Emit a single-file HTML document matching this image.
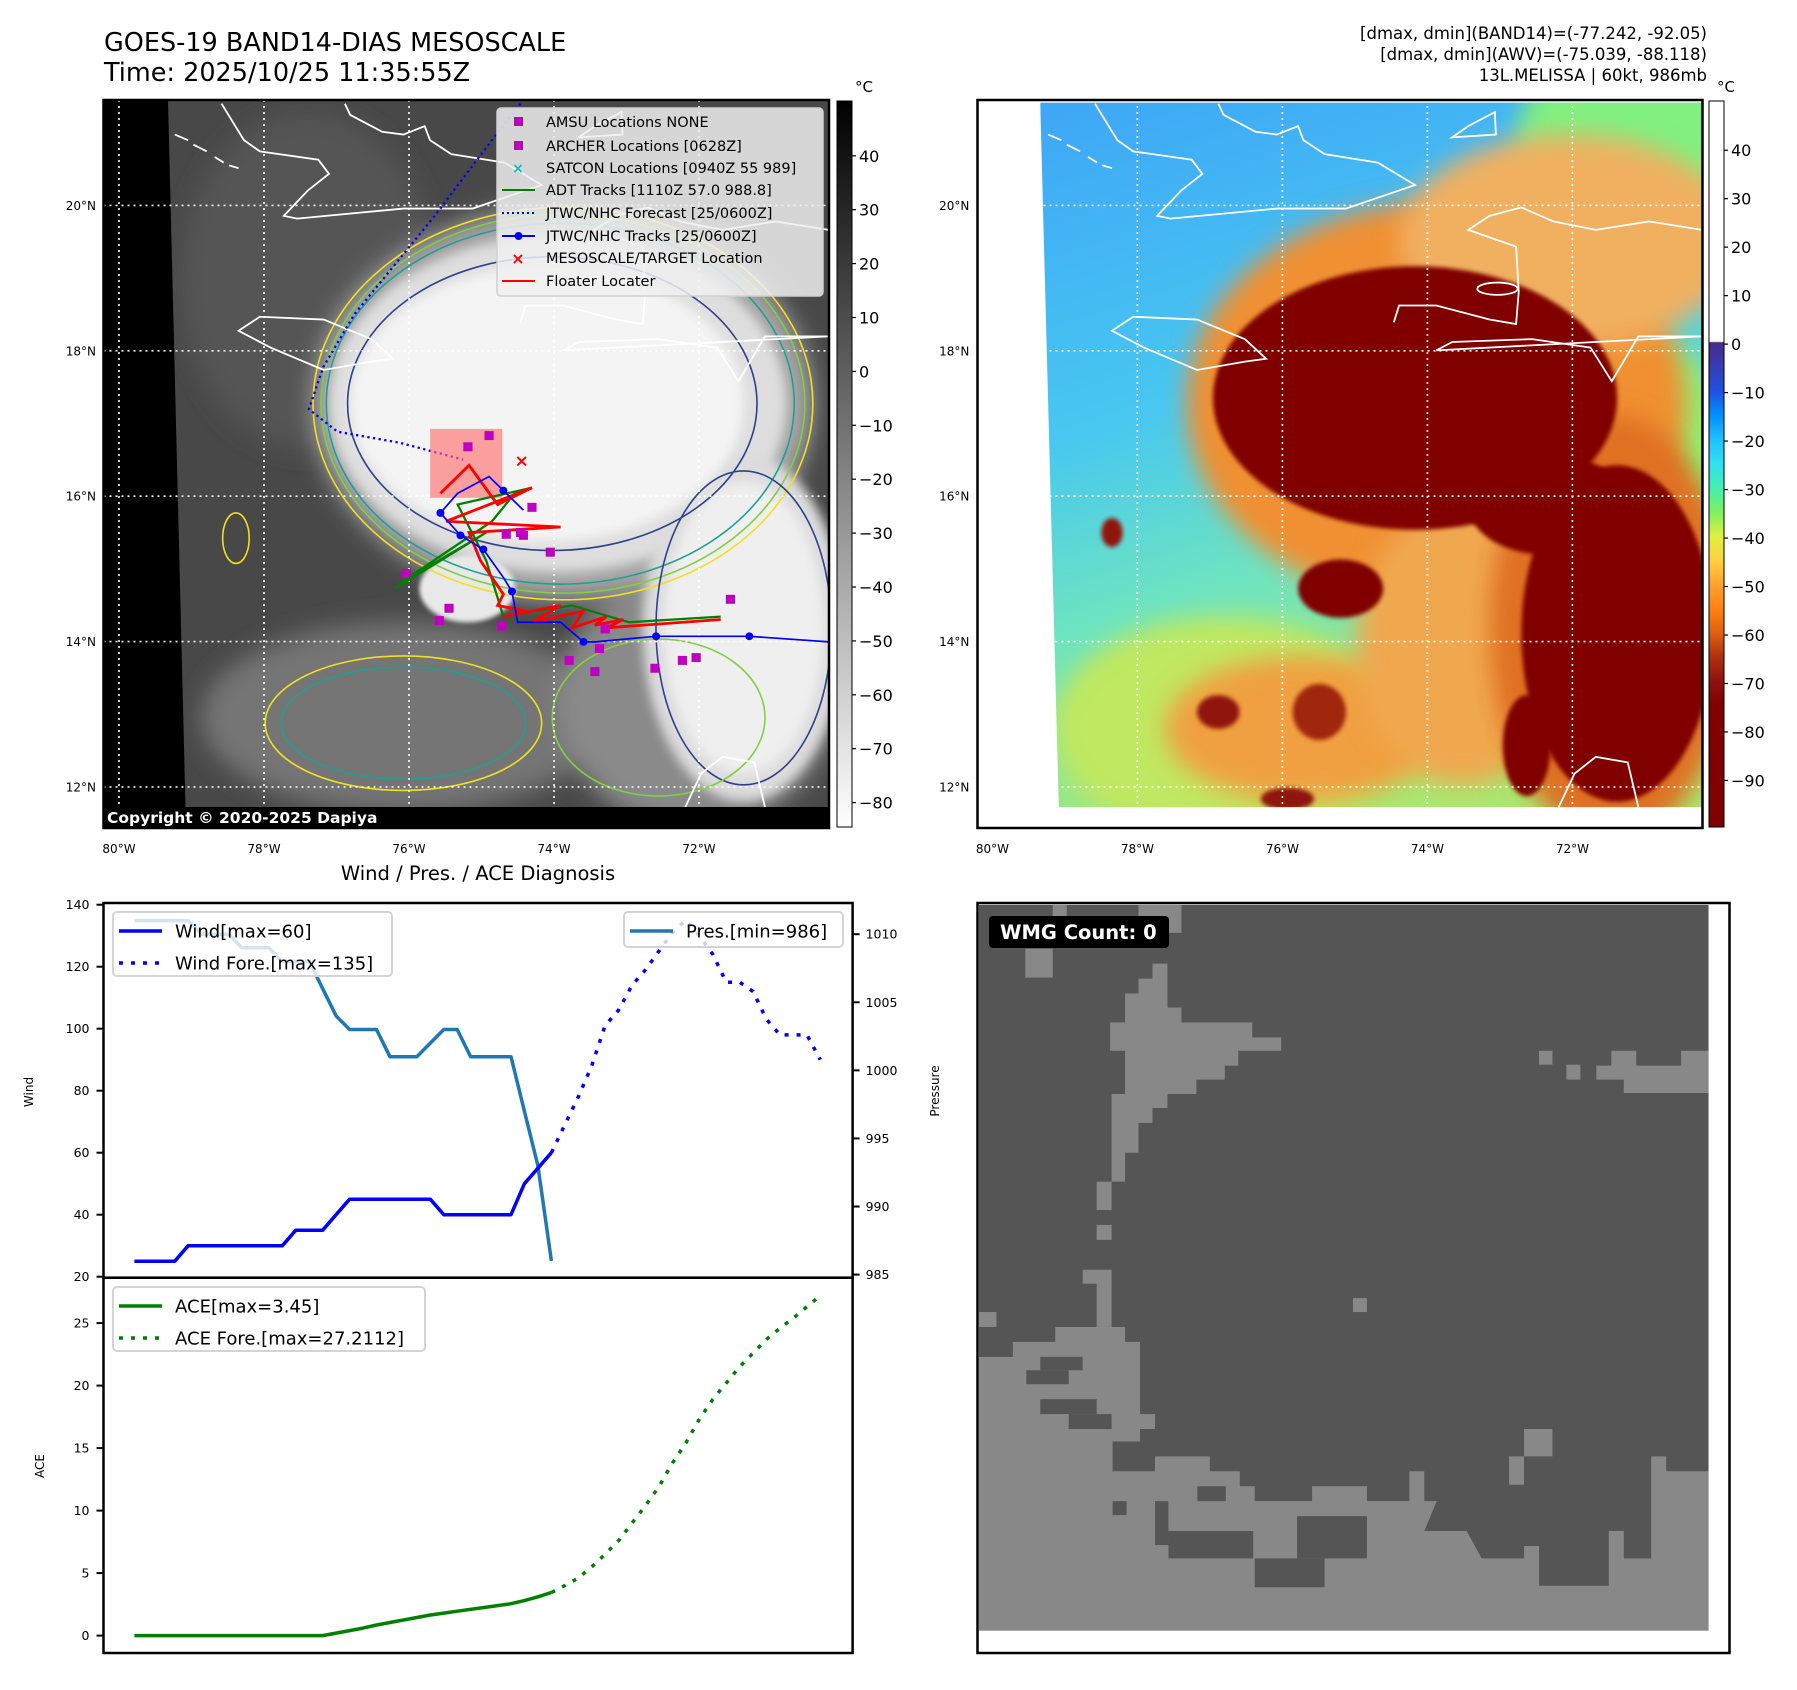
<!DOCTYPE html>
<html><head><meta charset="utf-8"><title>GOES-19 Band14 Mesoscale - Melissa</title>
<style>
html,body{margin:0;padding:0;background:#fff;}
svg{display:block;font-family:"DejaVu Sans","Liberation Sans",sans-serif;}
</style></head>
<body>
<svg id="fig" xmlns="http://www.w3.org/2000/svg" width="1797" height="1690" viewBox="0 0 1797 1690">
<defs>
  <filter id="blurL" x="-30%" y="-30%" width="160%" height="160%"><feGaussianBlur stdDeviation="22"/></filter>
  <filter id="blurM" x="-30%" y="-30%" width="160%" height="160%"><feGaussianBlur stdDeviation="10"/></filter>
  <filter id="blurS" x="-30%" y="-30%" width="160%" height="160%"><feGaussianBlur stdDeviation="4"/></filter>
  <clipPath id="clipL"><rect x="103.5" y="100" width="725.5" height="728"/></clipPath>
  <clipPath id="clipR"><rect x="977.5" y="100" width="725" height="728"/></clipPath>
  <clipPath id="dataR"><polygon points="155,183 1400,183 1400,1440 190,1440"/></clipPath>
  <linearGradient id="cbGray" x1="0" y1="0" x2="0" y2="1"><stop offset="0" stop-color="#000"/><stop offset="1" stop-color="#fff"/></linearGradient>
  <linearGradient id="cbRight" x1="0" y1="0" x2="0" y2="1">
    <stop offset="0" stop-color="#fff"/><stop offset="0.331" stop-color="#fff"/>
    <stop offset="0.333" stop-color="#4a2a8a"/><stop offset="0.399" stop-color="#2050e0"/>
    <stop offset="0.433" stop-color="#0090ff"/><stop offset="0.466" stop-color="#20c0ff"/>
    <stop offset="0.499" stop-color="#30e0f0"/><stop offset="0.533" stop-color="#40f0b0"/>
    <stop offset="0.566" stop-color="#80f060"/><stop offset="0.600" stop-color="#e0f040"/>
    <stop offset="0.633" stop-color="#ffd040"/><stop offset="0.667" stop-color="#ffa030"/>
    <stop offset="0.700" stop-color="#ff8010"/><stop offset="0.733" stop-color="#e06010"/>
    <stop offset="0.766" stop-color="#b03010"/><stop offset="0.800" stop-color="#901010"/>
    <stop offset="0.833" stop-color="#800000"/><stop offset="1" stop-color="#800000"/>
  </linearGradient>
  <linearGradient id="bgR" x1="0" y1="0" x2="0.3" y2="1">
    <stop offset="0" stop-color="#3ea6f6"/><stop offset="0.45" stop-color="#48c8f0"/>
    <stop offset="0.7" stop-color="#6ee4c0"/><stop offset="1" stop-color="#a8e870"/>
  </linearGradient>
  <g id="coast" fill="none" stroke="#fff" stroke-width="1.8">
    <path vector-effect="non-scaling-stroke" d="M258,185 L300,250 330,270 440,285 460,310 420,340 375,385 400,390 600,372 730,372 860,330 790,290 690,275 650,250 640,225 600,240 560,235 500,205 490,185"/>
    <path vector-effect="non-scaling-stroke" d="M170,240 L195,250 M205,258 L230,270 M245,280 L262,290 M272,295 L290,300"/>
    <path vector-effect="non-scaling-stroke" d="M290,590 L330,565 450,570 540,605 580,640 540,645 450,660 350,620 Z"/>
    <path vector-effect="non-scaling-stroke" d="M820,575 L830,545 900,545 1000,570 1050,578 1055,520 1050,440 960,410 1000,385 1060,370 1120,395 1200,410 1300,395 1400,410 M1400,600 L1280,600 1230,680 1190,620 1080,605 930,610 900,625 Z"/>
    <ellipse vector-effect="non-scaling-stroke" cx="1015" cy="515" rx="38" ry="11"/>
    <path vector-effect="non-scaling-stroke" d="M930,245 L960,225 1010,200 1012,240 Z"/>
    <path vector-effect="non-scaling-stroke" d="M1130,1440 L1160,1380 1200,1350 1260,1360 1280,1440"/>
  </g>
</defs>

<!-- ============ TITLES ============ -->
<text x="104" y="51" font-size="25.5">GOES-19 BAND14-DIAS MESOSCALE</text>
<text x="104" y="81" font-size="25.5">Time: 2025/10/25 11:35:55Z</text>
<g font-size="16.5" text-anchor="end">
  <text x="1707" y="39">[dmax, dmin](BAND14)=(-77.242, -92.05)</text>
  <text x="1707" y="60">[dmax, dmin](AWV)=(-75.039, -88.118)</text>
  <text x="1707" y="81">13L.MELISSA | 60kt, 986mb</text>
</g>

<!-- ============ LEFT MAP (grayscale IR) ============ -->
<g clip-path="url(#clipL)">
  <rect x="103.5" y="100" width="726" height="728" fill="#484848"/>
  <g transform="translate(84.4,0) scale(0.5317,0.5606)">
    <ellipse cx="600" cy="1280" rx="380" ry="170" fill="#747474" filter="url(#blurL)"/>
    <ellipse cx="1150" cy="1250" rx="260" ry="230" fill="#8a8a8a" filter="url(#blurL)"/>
    <ellipse cx="420" cy="500" rx="240" ry="300" fill="#555" filter="url(#blurL)"/>
    <ellipse cx="900" cy="720" rx="470" ry="350" fill="#a8a8a8" filter="url(#blurL)"/>
    <ellipse cx="890" cy="720" rx="430" ry="300" fill="#dedede" filter="url(#blurM)"/>
    <ellipse cx="1240" cy="1120" rx="190" ry="310" fill="#dcdcdc" filter="url(#blurM)"/>
    <ellipse cx="870" cy="720" rx="370" ry="245" fill="#f4f4f4" filter="url(#blurM)"/>
    <ellipse cx="1240" cy="1120" rx="150" ry="260" fill="#efefef" filter="url(#blurM)"/>
    <ellipse cx="720" cy="1050" rx="90" ry="60" fill="#e8e8e8" filter="url(#blurS)"/>
    <g fill="none" stroke-width="1.6">
      <ellipse cx="900" cy="720" rx="470" ry="350" stroke="#f0e020" vector-effect="non-scaling-stroke"/>
      <ellipse cx="900" cy="720" rx="455" ry="338" stroke="#80d040" vector-effect="non-scaling-stroke"/>
      <ellipse cx="895" cy="720" rx="440" ry="322" stroke="#20a090" vector-effect="non-scaling-stroke"/>
      <ellipse cx="880" cy="720" rx="385" ry="262" stroke="#30408a" vector-effect="non-scaling-stroke"/>
      <ellipse cx="1240" cy="1120" rx="165" ry="280" stroke="#30408a" vector-effect="non-scaling-stroke"/>
      <ellipse cx="600" cy="1290" rx="260" ry="120" stroke="#f0e020" vector-effect="non-scaling-stroke"/>
      <ellipse cx="600" cy="1290" rx="230" ry="100" stroke="#20a090" vector-effect="non-scaling-stroke"/>
      <ellipse cx="1080" cy="1280" rx="200" ry="140" stroke="#80d040" vector-effect="non-scaling-stroke"/>
      <ellipse cx="285" cy="960" rx="25" ry="45" stroke="#f0e020" vector-effect="non-scaling-stroke"/>
    </g>
    <use href="#coast"/>
  </g>
  <polygon points="103.5,100 168,100 186,828 103.5,828" fill="#000"/>
  <g stroke="#fff" stroke-width="1.6" stroke-dasharray="2,4" fill="none">
    <line x1="119" y1="100" x2="119" y2="828"/><line x1="264" y1="100" x2="264" y2="828"/><line x1="409" y1="100" x2="409" y2="828"/><line x1="554" y1="100" x2="554" y2="828"/><line x1="699" y1="100" x2="699" y2="828"/>
    <line x1="103.5" y1="205.4" x2="829" y2="205.4"/><line x1="103.5" y1="350.8" x2="829" y2="350.8"/><line x1="103.5" y1="496.2" x2="829" y2="496.2"/><line x1="103.5" y1="641.6" x2="829" y2="641.6"/><line x1="103.5" y1="787" x2="829" y2="787"/>
  </g>
  <g transform="scale(0.572,0.5606)">
    <polyline points="910,185 860,250 760,385 620,560 565,655 540,730 590,770 700,790 810,820" fill="none" stroke="#0000ff" stroke-width="4" stroke-dasharray="4,6"/>
    <rect x="752" y="765" width="126" height="123" fill="#ff7070" opacity="0.65"/>
    <polyline points="690,1050 850,950 700,1040 860,930 900,880 930,870 800,900 850,1000 880,1100 1000,1080 1100,1110 1260,1100" fill="none" stroke="#008000" stroke-width="4"/>
    <polyline points="770,880 820,830 870,900 930,870 780,930 980,940 820,950 840,1000 880,1060 870,1080 920,1090 880,1100 980,1080 930,1110 1020,1090 1000,1120 1060,1100 1040,1115 1090,1105 1060,1120 1260,1105" fill="none" stroke="#ff0000" stroke-width="5"/>
    <polyline points="1450,1145 1310,1135 1147,1135 1040,1145 1020,1145 980,1110 905,1110 895,1055 880,1030 845,980 805,955 770,915 800,880 855,850 880,875 915,910" fill="none" stroke="#0000ff" stroke-width="3"/>
    <g fill="#0000ff"><circle cx="1310" cy="1135" r="7"/><circle cx="1147" cy="1135" r="7"/><circle cx="1020" cy="1145" r="7"/><circle cx="895" cy="1055" r="7"/><circle cx="845" cy="980" r="7"/><circle cx="805" cy="955" r="7"/><circle cx="770" cy="915" r="7"/><circle cx="880" cy="875" r="7"/></g>
    <g fill="#c000c0">
      <rect x="810" y="789" width="16" height="16"/><rect x="847" y="769" width="16" height="16"/><rect x="902" y="942" width="16" height="16"/><rect x="877" y="945" width="16" height="16"/><rect x="907" y="947" width="16" height="16"/><rect x="954" y="977" width="16" height="16"/><rect x="922" y="897" width="16" height="16"/><rect x="702" y="1015" width="16" height="16"/><rect x="777" y="1077" width="16" height="16"/><rect x="760" y="1099" width="16" height="16"/><rect x="869" y="1109" width="16" height="16"/><rect x="1050" y="1114" width="16" height="16"/><rect x="987" y="1170" width="16" height="16"/><rect x="1040" y="1149" width="16" height="16"/><rect x="1032" y="1190" width="16" height="16"/><rect x="1137" y="1184" width="16" height="16"/><rect x="1185" y="1170" width="16" height="16"/><rect x="1209" y="1165" width="16" height="16"/><rect x="1269" y="1061" width="16" height="16"/>
    </g>
    <text x="912" y="832" font-size="30" font-weight="bold" fill="#ff0000" text-anchor="middle">×</text>
  </g>
  <rect x="103.5" y="807" width="726" height="22" fill="#000"/>
  <text x="107" y="823" font-size="15.5" font-weight="bold" fill="#fff">Copyright © 2020-2025 Dapiya</text>
</g>
<rect x="103.5" y="100" width="725.5" height="728" fill="none" stroke="#000" stroke-width="2.5"/>

<g>
  <rect x="497" y="108" width="326" height="188" rx="4" fill="#f0f0f0" fill-opacity="0.85" stroke="#d0d0d0" stroke-width="1.5"/>
  <g font-size="14.5" fill="#000">
    <rect x="514" y="117" width="9" height="9" fill="#c000c0"/><text x="546" y="127">AMSU Locations NONE</text>
    <rect x="514" y="141" width="9" height="9" fill="#c000c0"/><text x="546" y="151">ARCHER Locations [0628Z]</text>
    <text x="518" y="173" fill="#00c0c0" font-size="14" text-anchor="middle" font-weight="bold">×</text><text x="546" y="173">SATCON Locations [0940Z 55 989]</text>
    <line x1="502" y1="190" x2="535" y2="190" stroke="#008000" stroke-width="2"/><text x="546" y="195">ADT Tracks [1110Z 57.0 988.8]</text>
    <line x1="502" y1="213" x2="535" y2="213" stroke="#0000ff" stroke-width="2" stroke-dasharray="2,3"/><text x="546" y="218">JTWC/NHC Forecast [25/0600Z]</text>
    <line x1="502" y1="236" x2="535" y2="236" stroke="#0000ff" stroke-width="2"/><circle cx="518.5" cy="236" r="4" fill="#0000ff"/><text x="546" y="241">JTWC/NHC Tracks [25/0600Z]</text>
    <text x="518" y="264" fill="#ff0000" font-size="16" text-anchor="middle" font-weight="bold">×</text><text x="546" y="263">MESOSCALE/TARGET Location</text>
    <line x1="502" y1="281" x2="535" y2="281" stroke="#ff0000" stroke-width="2"/><text x="546" y="286">Floater Locater</text>
  </g>
</g>

<rect x="837" y="101" width="15" height="726" fill="url(#cbGray)" stroke="#000" stroke-width="1"/>
<text x="855" y="92" font-size="15">°C</text>
<g id="cbLeftTicks" font-size="16"></g>

<!-- ============ RIGHT MAP (color) ============ -->
<g clip-path="url(#clipR)">
  <rect x="977.5" y="100" width="725" height="728" fill="#fff"/>
  <g transform="translate(957.8,0) scale(0.5317,0.5606)">
    <g clip-path="url(#dataR)">
      <rect x="150" y="180" width="1260" height="1270" fill="url(#bgR)"/>
      <ellipse cx="1300" cy="260" rx="250" ry="200" fill="#80f080" filter="url(#blurL)"/>
      <ellipse cx="1340" cy="900" rx="110" ry="280" fill="#90f070" filter="url(#blurL)"/>
      <ellipse cx="500" cy="1300" rx="320" ry="200" fill="#c0e860" filter="url(#blurL)"/>
      <ellipse cx="900" cy="720" rx="470" ry="360" fill="#f09030" filter="url(#blurL)"/>
      <ellipse cx="1150" cy="430" rx="320" ry="190" fill="#f0b060" filter="url(#blurL)"/>
      <ellipse cx="650" cy="1300" rx="260" ry="130" fill="#f0a040" filter="url(#blurL)"/>
      <ellipse cx="950" cy="1150" rx="200" ry="250" fill="#f0a850" filter="url(#blurL)"/>
      <ellipse cx="1230" cy="1120" rx="230" ry="380" fill="#e07020" filter="url(#blurL)"/>
      <ellipse cx="860" cy="710" rx="380" ry="235" fill="#800000" filter="url(#blurS)"/>
      <ellipse cx="1240" cy="1130" rx="180" ry="300" fill="#800000" filter="url(#blurS)"/>
      <ellipse cx="1110" cy="900" rx="150" ry="90" fill="#800000" filter="url(#blurS)"/>
      <ellipse cx="720" cy="1050" rx="80" ry="52" fill="#800000" filter="url(#blurS)"/>
      <ellipse cx="1350" cy="1150" rx="70" ry="80" fill="#800000" filter="url(#blurS)"/>
      <ellipse cx="1070" cy="1330" rx="45" ry="90" fill="#800000" filter="url(#blurS)"/>
      <ellipse cx="490" cy="1270" rx="40" ry="30" fill="#901808" filter="url(#blurS)"/>
      <ellipse cx="680" cy="1270" rx="50" ry="50" fill="#a02808" filter="url(#blurS)"/>
      <ellipse cx="290" cy="950" rx="20" ry="26" fill="#901808" filter="url(#blurS)"/>
      <ellipse cx="620" cy="1425" rx="50" ry="20" fill="#901808" filter="url(#blurS)"/>
    </g>
    <use href="#coast"/>
  </g>
  <g stroke="#fff" stroke-width="1.6" stroke-dasharray="2,4" fill="none">
    <line x1="1137.4" y1="100" x2="1137.4" y2="828"/><line x1="1282.4" y1="100" x2="1282.4" y2="828"/><line x1="1427.4" y1="100" x2="1427.4" y2="828"/><line x1="1572.4" y1="100" x2="1572.4" y2="828"/>
    <line x1="977.5" y1="205.4" x2="1702.5" y2="205.4"/><line x1="977.5" y1="350.8" x2="1702.5" y2="350.8"/><line x1="977.5" y1="496.2" x2="1702.5" y2="496.2"/><line x1="977.5" y1="641.6" x2="1702.5" y2="641.6"/><line x1="977.5" y1="787" x2="1702.5" y2="787"/>
  </g>
</g>
<rect x="977.5" y="100" width="725" height="728" fill="none" stroke="#000" stroke-width="2.5"/>
<rect x="1709" y="101" width="15" height="726" fill="url(#cbRight)" stroke="#000" stroke-width="1"/>
<text x="1717" y="92" font-size="15">°C</text>
<g id="cbRightTicks" font-size="16"></g>

<g id="mapLabels" font-size="12"></g>

<!-- ============ DIAGNOSIS CHART ============ -->
<text x="478" y="880" font-size="19.5" text-anchor="middle">Wind / Pres. / ACE Diagnosis</text>
<g id="chart"></g>

<!-- ============ WMG PANEL ============ -->
<g>
  <g transform="translate(958,889) scale(0.4987,0.4977)">
    <rect x="42" y="32" width="1463" height="1458" fill="#555555"/>
    <g fill="#888888">
      <polygon points="42,940 110,940 110,910 195,910 195,880 335,880 335,910 365,910 365,1055 395,1055 395,1085 365,1085 365,1110 310,1110 310,1170 395,1170 395,1140 505,1140 505,1170 565,1170 565,1200 595,1200 595,1230 710,1230 710,1200 820,1200 820,1230 905,1230 905,1170 935,1170 935,1230 960,1230 935,1290 1020,1290 1050,1345 1135,1345 1135,1320 1165,1320 1165,1400 1305,1400 1305,1290 1335,1290 1335,1345 1390,1345 1390,1140 1420,1140 1420,1170 1505,1170 1505,1490 42,1490"/>
      <polygon points="305,268 335,268 335,210 362,210 362,180 390,180 390,150 420,150 420,238 448,238 448,268 505,268 590,268 590,298 648,298 648,325 562,325 562,355 535,355 535,383 478,383 478,412 420,412 420,440 390,440 390,470 362,470 362,530 335,530 335,588 308,588 308,412 335,412 335,325 305,325"/>
      <polygon points="1280,355 1310,355 1310,325 1360,325 1360,355 1450,355 1450,325 1505,325 1505,410 1335,410 1335,383 1280,383"/>
      <rect x="135" y="120" width="55" height="58"/><rect x="190" y="32" width="28" height="23"/><rect x="362" y="32" width="86" height="56"/>
      <rect x="278" y="588" width="30" height="57"/><rect x="278" y="675" width="30" height="30"/><rect x="250" y="765" width="58" height="28"/><rect x="278" y="790" width="30" height="90"/>
      <rect x="792" y="822" width="28" height="28"/><rect x="1165" y="325" width="27" height="28"/><rect x="1220" y="353" width="28" height="30"/><rect x="42" y="850" width="35" height="30"/>
      <rect x="1135" y="1085" width="57" height="55"/><rect x="1105" y="1140" width="30" height="57"/>
    </g>
    <g fill="#555555">
      <rect x="165" y="940" width="85" height="27"/><rect x="137" y="967" width="85" height="28"/>
      <rect x="165" y="1025" width="113" height="30"/><rect x="222" y="1055" width="86" height="30"/>
      <rect x="395" y="1230" width="27" height="88"/><rect x="422" y="1290" width="170" height="55"/>
      <rect x="595" y="1345" width="140" height="58"/><rect x="680" y="1260" width="140" height="85"/>
      <rect x="480" y="1200" width="57" height="30"/><rect x="310" y="1230" width="28" height="28"/>
      <rect x="420" y="1170" width="30" height="60" fill="#888"/>
    </g>
  </g>
  <rect x="989" y="916" width="180" height="32" rx="4" fill="#000"/>
  <text x="1000" y="939" font-size="19.5" font-weight="bold" fill="#fff">WMG Count: 0</text>
</g>
<rect x="977.5" y="903" width="752" height="750" fill="none" stroke="#000" stroke-width="2.5"/>

<script>
// ---- chart data (time index 0..51, hourly) ----
const obsIndex = [0,1,2,3,4,5,6,7,8,9,10,11,12,13,14,15,16,17,18,19,20,21,22,23,24,25,26,27,28,29,30,31];
const fcstIndex = [31,32,33,34,35,36,37,38,39,40,41,42,43,44,45,46,47,48,49,50,51];
const windObs = [25,25,25,25,30,30,30,30,30,30,30,30,35,35,35,40,45,45,45,45,45,45,45,40,40,40,40,40,40,50,55,60];
const windFcst = [60,69,78,88,101,106,114,119,125,131,135,130,124,115,115,112,103,98,98,98,90];
const presObs = [1011,1011,1011,1011,1011,1010,1010,1010,1009,1009,1009,1008,1008,1008,1006,1004,1003,1003,1003,1001,1001,1001,1002,1003,1003,1001,1001,1001,1001,997,993,986];
const aceObs = [0,0,0,0,0,0,0,0,0,0,0,0,0,0,0,0.2,0.4,0.6,0.85,1.05,1.25,1.45,1.65,1.8,1.95,2.1,2.25,2.4,2.55,2.8,3.1,3.45];
const aceFcst = [3.45,4.0,4.6,5.5,6.5,7.6,9.0,10.4,11.9,13.8,15.4,17.3,18.9,20.2,21.5,22.6,23.7,24.6,25.4,26.3,27.2];
const windTicks = [140,120,100,80,60,40,20];
const presTicks = [1010,1005,1000,995,990,985];
const aceTicks = [25,20,15,10,5,0];
const irCbTicks = [40,30,20,10,0,-10,-20,-30,-40,-50,-60,-70,-80];
const awvCbTicks = [40,30,20,10,0,-10,-20,-30,-40,-50,-60,-70,-80,-90];
const lonTicks = [-80,-78,-76,-74,-72];
const latTicks = [20,18,16,14,12];

const NS = 'http://www.w3.org/2000/svg';
function mk(tag, attrs, parent){ const e=document.createElementNS(NS,tag); for(const k in attrs) e.setAttribute(k,attrs[k]); if(parent) parent.appendChild(e); return e; }

const AX = {left:103.5, right:852.6, top:903, mid:1277.7, bottom:1653};
function xOf(i){ return 134.4 + 13.45*i; }
function windY(v){ return 1276.7 - (v-20)*3.1; }
function presY(p){ return 934.2 + (1010-p)*13.616; }
function aceY(a){ return 1635.6 - a*12.5; }
function minus(v){ return String(v).replace('-', '\u2212'); }

const chart = document.getElementById('chart');
function series(xs, ys, fy, color, dash, name){
  const pts = xs.map((x,k)=> xOf(x).toFixed(1)+','+fy(ys[k]).toFixed(1)).join(' ');
  const p = mk('polyline', {points:pts, fill:'none', stroke:color, 'stroke-width':3.5, 'stroke-linejoin':'round'}, chart);
  if(dash) p.setAttribute('stroke-dasharray', dash);
  
  
  return p;
}
mk('rect',{x:AX.left,y:AX.top,width:AX.right-AX.left,height:AX.bottom-AX.top,fill:'#fff'},chart);
series(obsIndex, presObs, presY, '#1f77b4', null, 'pressure-line');
series(obsIndex, windObs, windY, '#0000ff', null, 'wind-line');
series(fcstIndex, windFcst, windY, '#0000ff', '4,8', 'wind-forecast-line');
series(obsIndex, aceObs, aceY, '#008000', null, 'ace-line');
series(fcstIndex, aceFcst, aceY, '#008000', '4,8', 'ace-forecast-line');
mk('rect',{x:AX.left,y:AX.top,width:AX.right-AX.left,height:AX.mid-AX.top,fill:'none',stroke:'#000','stroke-width':2.5},chart);
mk('rect',{x:AX.left,y:AX.mid,width:AX.right-AX.left,height:AX.bottom-AX.mid,fill:'none',stroke:'#000','stroke-width':2.5},chart);

function ytick(val, y, side, name){
  const g = mk('g',{},chart);
  
  
  if(side==='left'){
    mk('line',{x1:AX.left-7,y1:y,x2:AX.left,y2:y,stroke:'#000','stroke-width':2},g);
    const t = mk('text',{x:AX.left-14,y:y+4.5,'font-size':12.5,'text-anchor':'end'},g); t.textContent = minus(val);
  } else {
    mk('line',{x1:AX.right,y1:y,x2:AX.right+7,y2:y,stroke:'#000','stroke-width':2},g);
    const t = mk('text',{x:AX.right+13,y:y+4.5,'font-size':12.5},g); t.textContent = val;
  }
}
windTicks.forEach(v=>ytick(v, windY(v), 'left', 'wind-tick'));
presTicks.forEach(v=>ytick(v, presY(v), 'right', 'pressure-tick'));
aceTicks.forEach(v=>ytick(v, aceY(v), 'left', 'ace-tick'));

function label(txt, x, y, rot, name){
  const t = mk('text',{x:x,y:y,'font-size':12,'text-anchor':'middle',transform:'rotate('+rot+' '+x+' '+y+')'},chart);
  t.textContent = txt;
  
  
}
label('Wind', 33, 1092, -90, 'wind-axis-title');
label('ACE', 44, 1466, -90, 'ace-axis-title');
label('Pressure', 939, 1091, -90, 'pressure-axis-title');

function legend(x,y,w,h,items,name){
  const g = mk('g',{},chart);
  
  
  mk('rect',{x:x,y:y,width:w,height:h,rx:4,fill:'#fff','fill-opacity':0.8,stroke:'#d4d4d4','stroke-width':2},g);
  items.forEach((it,k)=>{
    const yy = y+19+k*32;
    const l = mk('line',{x1:x+6,y1:yy,x2:x+49,y2:yy,stroke:it.c,'stroke-width':3.5},g);
    if(it.d) l.setAttribute('stroke-dasharray', it.d);
    const t = mk('text',{x:x+62,y:yy+6.5,'font-size':18},g); t.textContent = it.t;
  });
}
legend(113,912,279,64,[{t:'Wind[max=60]',c:'#0000ff'},{t:'Wind Fore.[max=135]',c:'#0000ff',d:'4,8'}],'wind-legend');
legend(624,912,219,35,[{t:'Pres.[min=986]',c:'#1f77b4'}],'pressure-legend');
legend(113,1287,312,64,[{t:'ACE[max=3.45]',c:'#008000'},{t:'ACE Fore.[max=27.2112]',c:'#008000',d:'4,8'}],'ace-legend');

const cbL = document.getElementById('cbLeftTicks');
irCbTicks.forEach(v=>{
  const y = 155.8 + (40-v)*5.39;
  mk('line',{x1:852,y1:y,x2:856,y2:y,stroke:'#000','stroke-width':1.2},cbL);
  const t = mk('text',{x:859,y:y+6},cbL); t.textContent = minus(v);
});
const cbR = document.getElementById('cbRightTicks');
awvCbTicks.forEach(v=>{
  const y = 150.2 + (40-v)*4.848;
  mk('line',{x1:1724,y1:y,x2:1728,y2:y,stroke:'#000','stroke-width':1.2},cbR);
  const t = mk('text',{x:1731,y:y+6},cbR); t.textContent = minus(v);
});

const ml = document.getElementById('mapLabels');
[0, 873.4].forEach(off=>{
  lonTicks.forEach(lon=>{
    const t = mk('text',{x:119+(lon+80)*72.5+off, y:853, 'text-anchor':'middle'}, ml);
    t.textContent = Math.abs(lon)+'\u00b0W';
  });
  latTicks.forEach(lat=>{
    const t = mk('text',{x:96+off, y:205.4+(20-lat)*72.7+4.5, 'text-anchor':'end'}, ml);
    t.textContent = lat+'\u00b0N';
  });
});
</script>
</svg>
</body></html>
